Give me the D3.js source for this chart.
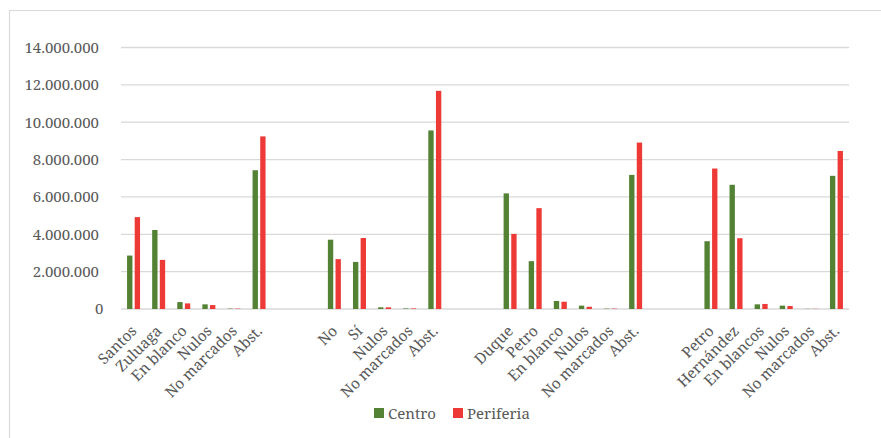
<!DOCTYPE html>
<html>
<head>
<meta charset="utf-8">
<script src="https://cdn.jsdelivr.net/npm/d3@7"></script>
<style>
  body { margin: 0; background: #fff; }
  svg { display: block; }
  text { font-family: 'Noto Serif', 'Liberation Serif', serif; fill: #595959; }
</style>
</head>
<body>
<div id="chart"></div>
<script>
// categories on the x axis, blanks are the gaps between elections
const categories = [
  'Santos', 'Zuluaga', 'En blanco', 'Nulos', 'No marcados', 'Abst.', '', '',
  'No', 'Sí', 'Nulos', 'No marcados', 'Abst.', '', '',
  'Duque', 'Petro', 'En blanco', 'Nulos', 'No marcados', 'Abst.', '', '',
  'Petro', 'Hernández', 'En blancos', 'Nulos', 'No marcados', 'Abst.'
]
const centro = [
  2860000, 4230000, 370000, 250000, 20000, 7430000, null, null,
  3710000, 2520000, 90000, 30000, 9560000, null, null,
  6190000, 2560000, 430000, 180000, 20000, 7180000, null, null,
  3630000, 6650000, 250000, 180000, 10000, 7130000
]
const periferia = [
  4920000, 2630000, 300000, 210000, 20000, 9240000, null, null,
  2670000, 3800000, 90000, 30000, 11680000, null, null,
  4020000, 5400000, 390000, 120000, 20000, 8910000, null, null,
  7520000, 3790000, 270000, 160000, 10000, 8460000
]
const seriesNames = ['Centro', 'Periferia']
const yTicks = [0, 2000000, 4000000, 6000000, 8000000, 10000000, 12000000, 14000000]

const colors = ['#548235', '#ee3a37']
const chartWidth = 881
const chartHeight = 438
const margin = { top: 47.5, bottom: 129, left: 121, right: 32 }
const height = chartHeight - margin.top - margin.bottom
const width = chartWidth - margin.left - margin.right

const locale = d3.formatLocale({ decimal: ',', thousands: '.', grouping: [3], currency: ['', ''] })
const fmt = locale.format(',d')

const svg = d3.select('#chart')
  .append('svg')
  .attr('width', chartWidth)
  .attr('height', chartHeight)

// chart area border
svg.append('path')
  .attr('d', `M9.5,${chartHeight} V10.5 H${chartWidth}`)
  .attr('fill', 'none')
  .attr('stroke', '#d9d9d9')
  .attr('stroke-width', 1.2)

const g = svg.append('g').attr('transform', `translate(${margin.left}, ${margin.top})`)

const idx = categories.map((d, i) => i)
const x = d3.scaleBand().domain(idx).range([0, width]).paddingInner(0).paddingOuter(0)
const y = d3.scaleLinear().domain([0, 14000000]).range([height, 0])

// gridlines
g.append('g')
  .selectAll('line')
  .data(yTicks)
  .enter()
  .append('line')
  .attr('x1', 0)
  .attr('x2', width)
  .attr('y1', (d) => y(d))
  .attr('y2', (d) => y(d))
  .attr('stroke', '#d9d9d9')
  .attr('stroke-width', 1.3)

// y axis labels
const yAxis = g.append('g')
  .attr('transform', 'translate(-22, 0)')
  .call(d3.axisLeft(y).tickValues(yTicks).tickFormat(fmt).tickSize(0).tickPadding(0))
yAxis.attr('font-family', null)
yAxis.select('.domain').remove()
yAxis.selectAll('text')
  .style('font-size', '15px')
  .attr('fill', '#595959')
  .attr('dx', (d) => (d === 0 ? 4.5 : 0))

// bars
const x1 = d3.scaleBand().domain([0, 1]).range([x.bandwidth() / 2 - 6.5, x.bandwidth() / 2 + 6.5]).paddingInner(0.3)
const series = [centro, periferia]
series.forEach((vals, s) => {
  g.append('g')
    .selectAll('rect')
    .data(vals.map((v, i) => ({ v, i })).filter((d) => d.v != null))
    .enter()
    .append('rect')
    .attr('x', (d) => x(d.i) + x1(s))
    .attr('width', x1.bandwidth())
    .attr('y', (d) => y(d.v))
    .attr('height', (d) => height - y(d.v))
    .attr('fill', colors[s])
})

// x axis labels
g.append('g')
  .selectAll('text')
  .data(categories.map((c, i) => ({ c, i })).filter((d) => d.c !== ''))
  .enter()
  .append('text')
  .text((d) => d.c)
  .attr('text-anchor', 'end')
  .style('font-size', '15px')
  .attr('transform', (d) => `translate(${x(d.i) + x.bandwidth() / 2 + 4}, ${height + 23})rotate(-45)`)

// legend
const legend = svg.append('g').attr('transform', 'translate(374, 408)')
const items = [{ name: seriesNames[0], dx: 0 }, { name: seriesNames[1], dx: 79 }]
items.forEach((it, i) => {
  legend.append('rect')
    .attr('x', it.dx)
    .attr('y', 0)
    .attr('width', 10)
    .attr('height', 10)
    .attr('fill', colors[i])
  legend.append('text')
    .attr('x', it.dx + 14)
    .attr('y', 10.5)
    .style('font-size', '15px')
    .text(it.name)
})
</script>
</body>
</html>
